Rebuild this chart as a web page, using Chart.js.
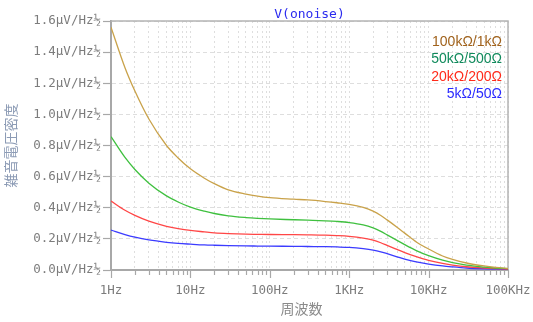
<!DOCTYPE html>
<html>
<head>
<meta charset="utf-8">
<script src="https://cdn.jsdelivr.net/npm/chart.js@4/dist/chart.umd.min.js"></script>
<style>
  html, body { margin: 0; padding: 0; background: #fff; }
  #wrap { width: 533px; height: 322px; }
</style>
</head>
<body>
<div id="wrap"><canvas id="noise"></canvas></div>
<script>
// Output noise density vs frequency, four resistor ratios
const freqs = [1, 1.5, 2, 3, 5, 7, 10, 15, 20, 30, 50, 70, 100, 200, 300, 500, 700,
  1000, 1500, 2000, 2500, 3000, 4000, 5000, 7000, 10000, 15000, 20000, 30000, 50000, 70000, 100000];

const seriesLabels = ['100kΩ/1kΩ', '50kΩ/500Ω', '20kΩ/200Ω', '5kΩ/50Ω'];

// μV/√Hz
const noise100k = [1.56, 1.30, 1.15, 0.97, 0.80, 0.72, 0.65, 0.59, 0.555, 0.515, 0.488, 0.475, 0.465, 0.455, 0.45, 0.44, 0.432,
  0.422, 0.402, 0.378, 0.35, 0.322, 0.275, 0.237, 0.18, 0.135, 0.09, 0.068, 0.045, 0.026, 0.017, 0.01];
const noise50k = [0.857, 0.723, 0.646, 0.558, 0.476, 0.437, 0.404, 0.378, 0.363, 0.348, 0.337, 0.332, 0.328, 0.323, 0.32, 0.316, 0.312,
  0.305, 0.29, 0.27, 0.248, 0.226, 0.19, 0.163, 0.125, 0.092, 0.063, 0.047, 0.031, 0.019, 0.013, 0.009];
const noise20k = [0.443, 0.384, 0.351, 0.314, 0.281, 0.266, 0.254, 0.245, 0.239, 0.234, 0.23, 0.229, 0.228, 0.227, 0.226, 0.224, 0.221,
  0.216, 0.205, 0.192, 0.175, 0.158, 0.132, 0.112, 0.086, 0.062, 0.042, 0.032, 0.021, 0.013, 0.009, 0.006];
const noise5k = [0.257, 0.228, 0.211, 0.193, 0.178, 0.171, 0.166, 0.161, 0.159, 0.157, 0.155, 0.154, 0.153, 0.152, 0.151, 0.15, 0.148,
  0.145, 0.137, 0.128, 0.117, 0.105, 0.085, 0.07, 0.052, 0.038, 0.026, 0.02, 0.013, 0.008, 0.006, 0.004];

const xTickValues = [1, 10, 100, 1000, 10000, 100000];
const xTickLabels = ['1Hz', '10Hz', '100Hz', '1KHz', '10KHz', '100KHz'];

const lineColors = ['#c9a24a', '#3fc03f', '#ff4646', '#3b3bff'];
const legendColors = ['#a0621c', '#108a5c', '#ff2a1a', '#2a2aff'];

const monoFont = "'DejaVu Sans Mono', monospace";
const cjkFont = "'Noto Sans CJK JP', sans-serif";
const axisGray = '#a8a8a8';

const toPoints = (vals) => freqs.map((f, i) => ({ x: f, y: vals[i] }));

// frame, x tick marks, x title and the right-hand legend
const decorations = {
  id: 'decorations',
  beforeDatasetsDraw(chart) {
    const { ctx, chartArea: a, scales: { x } } = chart;
    ctx.save();
    ctx.strokeStyle = '#b4b4b4';
    ctx.lineWidth = 1.5;
    ctx.beginPath();
    ctx.moveTo(a.left, a.top);
    ctx.lineTo(a.right, a.top);
    ctx.lineTo(a.right, a.bottom);
    ctx.stroke();

    ctx.strokeStyle = axisGray;
    ctx.lineWidth = 1.2;
    x.ticks.forEach((t) => {
      const px = Math.round(x.getPixelForValue(t.value)) + 0.5;
      const len = xTickValues.includes(t.value) ? 8 : 5;
      ctx.beginPath();
      ctx.moveTo(px, a.bottom);
      ctx.lineTo(px, a.bottom + len);
      ctx.stroke();
    });
    ctx.restore();
  },
  afterDraw(chart) {
    const { ctx, chartArea: a } = chart;
    ctx.save();
    ctx.fillStyle = '#8a8a8a';
    ctx.font = '14px ' + cjkFont;
    ctx.textAlign = 'center';
    ctx.textBaseline = 'middle';
    ctx.fillText('周波数', a.left + (a.right - a.left) * 0.480, 309);

    ctx.font = "14px 'Liberation Sans', Arial, sans-serif";
    ctx.textAlign = 'right';
    chart.data.datasets.forEach((ds, i) => {
      ctx.fillStyle = legendColors[i];
      ctx.fillText(ds.label, a.right - 6, a.top + 21 + i * 17.5);
    });
    ctx.restore();
  },
};

new Chart(document.getElementById('noise'), {
  type: 'line',
  data: {
    datasets: [noise100k, noise50k, noise20k, noise5k].map((vals, i) => ({
      label: seriesLabels[i],
      data: toPoints(vals),
      borderColor: lineColors[i],
      borderWidth: 1.3,
      pointRadius: 0,
      cubicInterpolationMode: 'monotone',
      fill: false,
    })),
  },
  options: {
    responsive: true,
    maintainAspectRatio: false,
    animation: false,
    layout: { padding: { left: 0, right: 25, top: 0, bottom: 0 } },
    plugins: {
      legend: { display: false },
      tooltip: { enabled: false },
      title: {
        display: true,
        text: 'V(onoise)',
        fullSize: false,
        color: '#2b2bef',
        font: { family: monoFont, size: 13, weight: 'normal', lineHeight: 1 },
        padding: { top: 8, bottom: 0 },
      },
    },
    scales: {
      x: {
        type: 'logarithmic',
        min: 1,
        max: 100000,
        afterBuildTicks: (scale) => {
          // keep 1..9 per decade only
          scale.ticks = scale.ticks.filter((t) => {
            const m = t.value / Math.pow(10, Math.floor(Math.log10(t.value) + 1e-9));
            return Math.abs(m - Math.round(m)) < 1e-6;
          });
        },
        afterFit: (scale) => {
          scale.height = 52;
          scale.paddingLeft = 0;
          scale.paddingRight = 0;
        },
        grid: { color: '#dedede', lineWidth: 1, drawTicks: false },
        border: { color: axisGray, width: 2, dash: [2, 3] },
        ticks: {
          autoSkip: false,
          maxRotation: 0,
          padding: 13,
          color: '#7c7c7c',
          font: { family: monoFont, size: 12.5 },
          callback: (v) => {
            const k = xTickValues.indexOf(v);
            return k >= 0 ? xTickLabels[k] : '';
          },
        },
      },
      y: {
        min: 0,
        max: 1.6,
        afterFit: (scale) => { scale.width = 111; },
        grid: { color: '#dedede', lineWidth: 1, tickLength: 8, tickColor: axisGray, tickWidth: 1.2, tickBorderDash: [] },
        border: { color: axisGray, width: 2, dash: [4, 3] },
        ticks: {
          stepSize: 0.2,
          padding: 2,
          color: '#7c7c7c',
          font: { family: monoFont, size: 12.5 },
          callback: (v) => v.toFixed(1) + 'μV/Hz½',
        },
        title: {
          display: true,
          text: '雑音電圧密度',
          color: '#8c9bb5',
          font: { family: cjkFont, size: 14, lineHeight: 1.2 },
          padding: { top: 2, bottom: 0 },
        },
      },
    },
  },
  plugins: [decorations],
});
</script>
</body>
</html>
